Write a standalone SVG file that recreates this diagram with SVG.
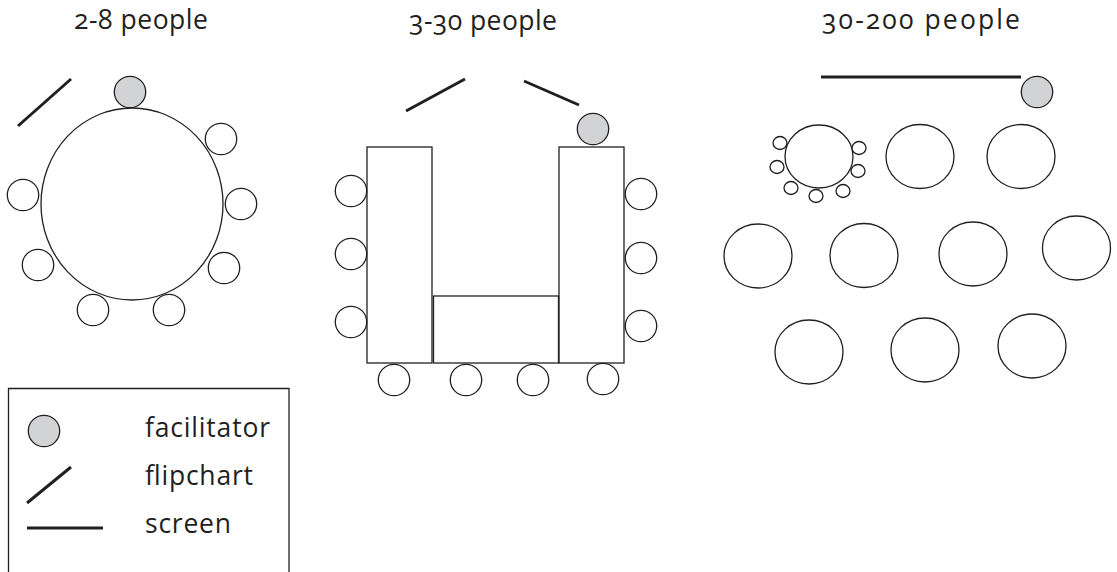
<svg xmlns="http://www.w3.org/2000/svg" width="1117" height="572" viewBox="0 0 1117 572">
  <style>
    .t { font-family: "Open Sans", "Noto Sans", "Liberation Sans", sans-serif; font-size: 26.5px; fill: #231f20; font-variant-numeric: oldstyle-nums; }
    .o { fill: #ffffff; stroke: #231f20; stroke-width: 1.3; }
    .f { fill: #d1d3d4; stroke: #231f20; stroke-width: 1.3; }
    .bar { stroke: #231f20; stroke-width: 3; stroke-linecap: butt; fill: none; }
    .box { fill: none; stroke: #231f20; stroke-width: 1.3; }
  </style>
  <rect width="1117" height="572" fill="#ffffff"/>

  <!-- Titles -->
  <text class="t" x="74" y="29" textLength="134" lengthAdjust="spacing">2-8 people</text>
  <text class="t" x="409" y="30" textLength="148" lengthAdjust="spacing">3-30 people</text>
  <text class="t" x="822" y="29" textLength="198" lengthAdjust="spacing">30-200 people</text>

  <!-- 2-8 people: round table -->
  <g id="round-table">
    <line class="bar" x1="71" y1="79" x2="18" y2="126"/>
    <ellipse class="o" cx="132" cy="204" rx="91" ry="96"/>
    <circle class="f" cx="130" cy="92" r="15.7"/>
    <circle class="o" cx="221" cy="139" r="15.7"/>
    <circle class="o" cx="241" cy="204" r="15.7"/>
    <circle class="o" cx="224" cy="268" r="15.7"/>
    <circle class="o" cx="23" cy="195" r="15.7"/>
    <circle class="o" cx="38" cy="265" r="15.7"/>
    <circle class="o" cx="93" cy="310" r="15.7"/>
    <circle class="o" cx="169" cy="310" r="15.7"/>
  </g>

  <!-- 3-30 people: U-shape -->
  <g id="u-shape">
    <line class="bar" x1="406" y1="111" x2="465" y2="79"/>
    <line class="bar" x1="524" y1="81" x2="579" y2="105"/>
    <rect class="o" x="367" y="147" width="65" height="216"/>
    <rect class="o" x="559" y="147" width="65" height="216"/>
    <rect class="o" x="433.5" y="296" width="125" height="67"/>
    <circle class="f" cx="593" cy="129" r="15.7"/>
    <circle class="o" cx="351" cy="191" r="15.7"/>
    <circle class="o" cx="351" cy="254" r="15.7"/>
    <circle class="o" cx="351" cy="322" r="15.7"/>
    <circle class="o" cx="641" cy="194" r="15.7"/>
    <circle class="o" cx="641" cy="258" r="15.7"/>
    <circle class="o" cx="641" cy="326" r="15.7"/>
    <circle class="o" cx="394" cy="380" r="15.7"/>
    <circle class="o" cx="466" cy="380" r="15.7"/>
    <circle class="o" cx="533" cy="380" r="15.7"/>
    <circle class="o" cx="603" cy="379" r="15.7"/>
  </g>

  <!-- 30-200 people: cabaret -->
  <g id="cabaret">
    <line class="bar" x1="821" y1="77" x2="1021" y2="77"/>
    <circle class="f" cx="1037" cy="92" r="15.7"/>
    <ellipse class="o" cx="819" cy="156.5" rx="34" ry="31.5"/>
    <ellipse class="o" cx="780" cy="143" rx="7" ry="6.5"/>
    <ellipse class="o" cx="777" cy="167" rx="7" ry="6.5"/>
    <ellipse class="o" cx="791" cy="188" rx="7" ry="6.5"/>
    <ellipse class="o" cx="816" cy="196" rx="7" ry="6.5"/>
    <ellipse class="o" cx="843" cy="191" rx="7" ry="6.5"/>
    <ellipse class="o" cx="859" cy="148" rx="7" ry="6.5"/>
    <ellipse class="o" cx="858" cy="171" rx="7" ry="6.5"/>
    <ellipse class="o" cx="920" cy="156.5" rx="34" ry="32"/>
    <ellipse class="o" cx="1021" cy="156.5" rx="34" ry="32"/>
    <ellipse class="o" cx="758" cy="256" rx="34" ry="32"/>
    <ellipse class="o" cx="864" cy="255.5" rx="34" ry="32"/>
    <ellipse class="o" cx="973" cy="254" rx="34" ry="32"/>
    <ellipse class="o" cx="1076.5" cy="248" rx="34" ry="32"/>
    <ellipse class="o" cx="809" cy="352" rx="34" ry="32"/>
    <ellipse class="o" cx="925" cy="350" rx="34" ry="32"/>
    <ellipse class="o" cx="1032" cy="346" rx="34" ry="32"/>
  </g>

  <!-- Legend -->
  <g id="legend">
    <path class="box" d="M8.5,572 V388.5 H289 V572"/>
    <circle class="f" cx="44" cy="431" r="15.7"/>
    <line class="bar" x1="71" y1="467" x2="27" y2="503" stroke-width="2.5"/>
    <line class="bar" x1="27" y1="528" x2="103" y2="528" stroke-width="2.5"/>
    <text class="t" x="145" y="437" textLength="125" lengthAdjust="spacing">facilitator</text>
    <text class="t" x="145" y="485" textLength="108" lengthAdjust="spacing">flipchart</text>
    <text class="t" x="145" y="533" textLength="86" lengthAdjust="spacing">screen</text>
  </g>
</svg>
